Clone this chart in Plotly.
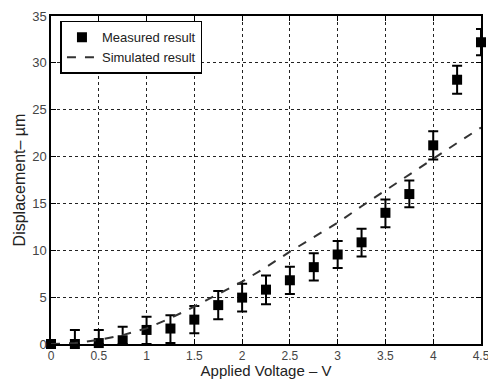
import plotly.graph_objects as go

voltage = [0, 0.25, 0.5, 0.75, 1, 1.25, 1.5, 1.75, 2, 2.25, 2.5, 2.75, 3, 3.25, 3.5, 3.75, 4, 4.25, 4.5]
measured = [0, 0, 0.1, 0.4, 1.5, 1.65, 2.6, 4.15, 4.95, 5.8, 6.8, 8.2, 9.55, 10.85, 14.0, 16.0, 21.2, 28.2, 32.2]
err_plus = [0, 1.5, 1.4, 1.45, 1.4, 1.42, 1.45, 1.5, 1.47, 1.5, 1.45, 1.48, 1.45, 1.45, 1.42, 1.45, 1.5, 1.5, 1.4]
err_minus = [0, 0, 0.1, 0.4, 1.5, 1.55, 1.45, 1.5, 1.47, 1.55, 1.47, 1.42, 1.45, 1.5, 1.55, 1.4, 1.5, 1.5, 1.4]
simulated = [0, 0.1, 0.43, 0.95, 1.67, 2.75, 4.0, 5.3, 6.65, 8.2, 9.85, 11.4, 12.95, 14.7, 16.4, 18.1, 19.8, 21.45, 23.1]

x_ticks = [0, 0.5, 1, 1.5, 2, 2.5, 3, 3.5, 4, 4.5]
x_tick_labels = ["0", "0.5", "1", "1.5", "2", "2.5", "3", "3.5", "4", "4.5"]
y_ticks = [0, 5, 10, 15, 20, 25, 30, 35]

fig = go.Figure()
fig.add_trace(go.Scatter(
    x=voltage, y=measured, mode="markers", name="Measured result",
    marker=dict(symbol="square", size=10, color="black"),
    error_y=dict(type="data", symmetric=False, array=err_plus, arrayminus=err_minus,
                 color="black", thickness=2, width=5),
    cliponaxis=False,
))
fig.add_trace(go.Scatter(
    x=voltage, y=simulated, mode="lines", name="Simulated result",
    line=dict(color="#333333", width=2, dash="dash"),
))

axis_common = dict(
    showline=True, linecolor="black", linewidth=1.5, mirror="ticks",
    ticks="inside", ticklen=5, tickcolor="black", tickwidth=1,
    showgrid=True, gridcolor="#222222", griddash="dot", gridwidth=1,
    zeroline=False, ticklabeloverflow="allow",
)

fig.update_xaxes(range=[0, 4.5], tickvals=x_ticks, ticktext=x_tick_labels,
                 tickfont=dict(family="Liberation Sans, Arial", size=12, color="#444444"),
                 title=dict(text="Applied Voltage – V", standoff=2,
                            font=dict(family="Liberation Sans, Arial", size=15, color="#222222")),
                 **axis_common)
fig.update_yaxes(range=[0, 35], tickvals=y_ticks,
                 tickfont=dict(family="Liberation Sans, Arial", size=13, color="#444444"),
                 title=dict(text="Displacement– µm", standoff=3,
                            font=dict(family="Liberation Sans, Arial", size=16, color="#222222")),
                 **axis_common)

fig.update_layout(
    width=488, height=379,
    margin=dict(l=51, r=7, t=16, b=35, autoexpand=False),
    paper_bgcolor="white", plot_bgcolor="white",
    showlegend=True,
    legend=dict(x=0.022, y=0.985, xanchor="left", yanchor="top",
                bgcolor="white", bordercolor="black", borderwidth=1.5,
                font=dict(family="Liberation Sans, Arial", size=13, color="#222222"),
                tracegroupgap=0, itemwidth=30),
)

fig.write_html("out.html")
